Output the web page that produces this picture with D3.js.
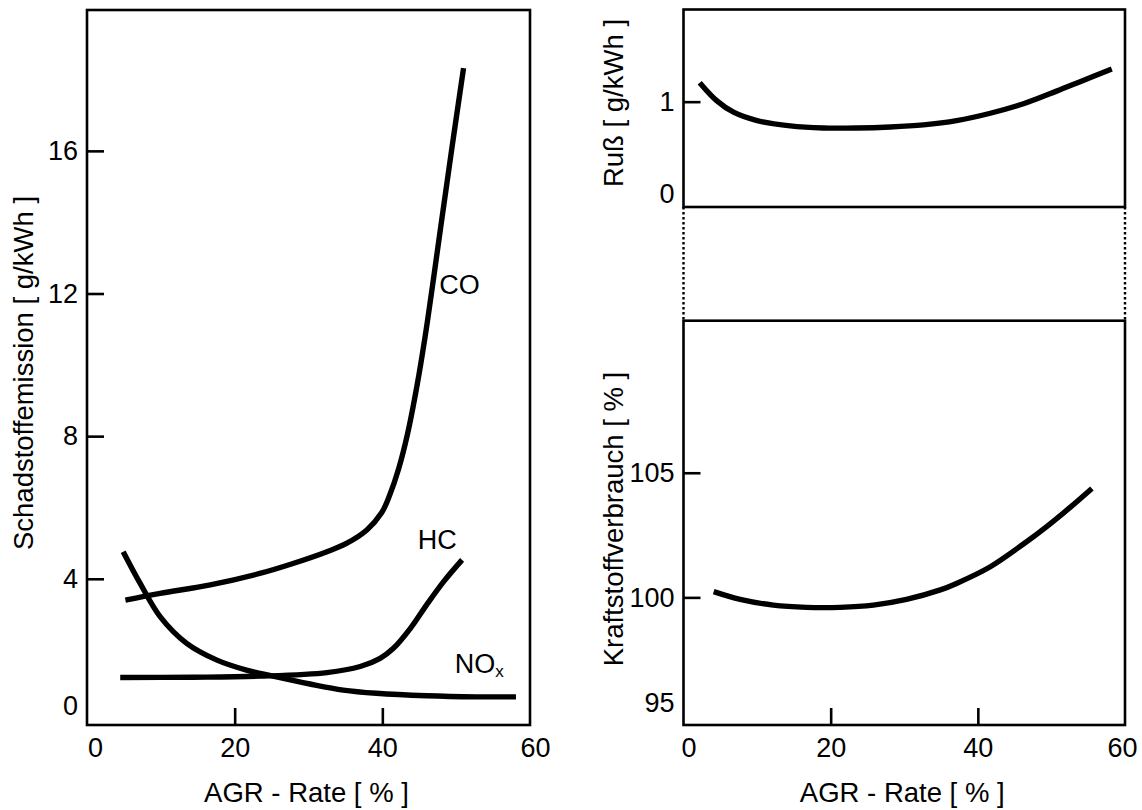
<!DOCTYPE html>
<html>
<head>
<meta charset="utf-8">
<script src="https://cdn.jsdelivr.net/npm/d3@7"></script>
<style>
  html, body { margin: 0; padding: 0; background: #fff; }
  svg { display: block; font-family: "Liberation Sans", Arial, Helvetica, sans-serif; }
</style>
</head>
<body>
<svg id="chart" width="1142" height="810"></svg>
<script>
// ---- Emissions vs. EGR rate (left panel) ----
const coRate   = [5.2, 9.9, 16.7, 23.4, 27.9, 32.5, 35.2, 37.9, 39.9, 41.0, 42.2, 43.4, 44.7, 45.8, 46.8, 48.0, 49.4, 51.0];
const coValue  = [3.40, 3.59, 3.83, 4.15, 4.43, 4.76, 5.00, 5.37, 5.85, 6.35, 7.08, 8.05, 9.42, 10.80, 12.22, 14.0, 16.05, 18.32];

const hcRate   = [4.5, 14.4, 23.4, 32.5, 37.0, 39.7, 41.5, 43.8, 46.0, 48.3, 50.8];
const hcValue  = [1.23, 1.24, 1.27, 1.37, 1.54, 1.77, 2.05, 2.61, 3.27, 3.92, 4.53];

const noxRate  = [4.9, 7.2, 9.9, 13.5, 17.6, 21.6, 25.2, 30.2, 34.7, 39.2, 46.0, 52.8, 58.1];
const noxValue = [4.76, 3.87, 2.94, 2.19, 1.72, 1.44, 1.27, 1.05, 0.88, 0.79, 0.72, 0.69, 0.69];

// ---- Soot vs. EGR rate (upper right) ----
const sootRate  = [2.2, 4.5, 6.8, 10.0, 14.5, 19.0, 23.5, 28.1, 32.6, 37.1, 41.7, 46.2, 50.7, 53.9, 58.2];
const sootValue = [1.18, 1.01, 0.90, 0.82, 0.77, 0.75, 0.75, 0.76, 0.78, 0.82, 0.89, 0.98, 1.10, 1.19, 1.31];

// ---- Fuel consumption vs. EGR rate (lower right) ----
const fuelRate  = [4.1, 7.7, 12.2, 16.7, 21.3, 25.8, 30.3, 34.9, 37.1, 41.7, 46.2, 49.4, 52.5, 55.5];
const fuelValue = [100.23, 99.92, 99.69, 99.60, 99.60, 99.69, 99.92, 100.30, 100.56, 101.23, 102.14, 102.85, 103.60, 104.37];

// ---- Tick values ----
const rateTicks     = [0, 20, 40, 60];
const emissionTicks = [0, 4, 8, 12, 16];
const sootTicks     = [0, 1];
const fuelTicks     = [95, 100, 105];

// ---- Curve labels (anchored in data units of the left panel) ----
const curveNames  = ["CO", "HC", "NO"];
const curveSubs   = ["", "", "x"];
const labelRate   = [47.7, 44.8, 49.8];
const labelValue  = [12.0, 4.84, 1.36];

const svg = d3.select("#chart");
const TICK_FONT = 27;
const TITLE_FONT = 27.5;
const FRAME_W = 2.6;
const CURVE_W = 5.4;

// scales
const xLeft  = d3.scaleLinear().domain([0, 60]).range([87, 530]);
const yLeft  = d3.scaleLinear().domain([-0.1, 19.95]).range([725, 10]);
const xRight = d3.scaleLinear().domain([0, 60]).range([683.5, 1125]);
const ySoot  = d3.scaleLinear().domain([0, 1.875]).range([207, 9.5]);
const yFuel  = d3.scaleLinear().domain([94.88, 111.1]).range([725, 320.7]);

function frame(x, y) {
  const [x0, x1] = x.range();
  const [yb, yt] = y.range();
  svg.append("rect")
    .attr("x", x0).attr("y", yt)
    .attr("width", x1 - x0).attr("height", yb - yt)
    .attr("fill", "none").attr("stroke", "#000").attr("stroke-width", FRAME_W);
}

function yAxis(x, y, ticks, bottomLift) {
  const g = svg.append("g")
    .attr("transform", `translate(${x.range()[0]},0)`)
    .call(d3.axisLeft(y).tickValues(ticks).tickSize(-17).tickPadding(9).tickFormat(d3.format("d")));
  g.attr("font-size", TICK_FONT).attr("font-family", null);
  g.select(".domain").remove();
  g.selectAll(".tick line").attr("stroke", "#000").attr("stroke-width", FRAME_W)
    .filter(d => d === ticks[0]).remove();
  g.selectAll(".tick text").attr("fill", "#000")
    .filter(d => d === ticks[0]).attr("y", -bottomLift);
}

function xAxis(x, y, ticks, firstShift, lastShift) {
  const g = svg.append("g")
    .attr("transform", `translate(0,${y.range()[0]})`)
    .call(d3.axisBottom(x).tickValues(ticks).tickSize(-17).tickPadding(13).tickFormat(d3.format("d")));
  g.attr("font-size", TICK_FONT).attr("font-family", null);
  g.select(".domain").remove();
  g.selectAll(".tick line").attr("stroke", "#000").attr("stroke-width", FRAME_W)
    .filter(d => d === ticks[0] || d === ticks[ticks.length - 1]).remove();
  g.selectAll(".tick text").attr("fill", "#000")
    .attr("dx", d => d === ticks[0] ? firstShift : (d === ticks[ticks.length - 1] ? lastShift : 0));
}

function curve(x, y, rates, values) {
  const pts = rates.map((r, i) => [r, values[i]]);
  const line = d3.line()
    .x(d => x(d[0])).y(d => y(d[1]))
    .curve(d3.curveCatmullRom.alpha(0.5));
  svg.append("path")
    .attr("d", line(pts))
    .attr("fill", "none").attr("stroke", "#000")
    .attr("stroke-width", CURVE_W).attr("stroke-linecap", "butt").attr("stroke-linejoin", "round");
}

function yTitle(px, py, text) {
  svg.append("text")
    .attr("transform", `translate(${px},${py}) rotate(-90)`)
    .attr("text-anchor", "middle").attr("font-size", TITLE_FONT).attr("fill", "#000")
    .text(text);
}

function xTitle(x, py, text) {
  const [x0, x1] = x.range();
  svg.append("text")
    .attr("x", (x0 + x1) / 2 - 2).attr("y", py)
    .attr("text-anchor", "middle").attr("font-size", TITLE_FONT).attr("fill", "#000")
    .text(text);
}

// ---- Left panel: Schadstoffemission ----
frame(xLeft, yLeft);
yAxis(xLeft, yLeft, emissionTicks, 16);
xAxis(xLeft, yLeft, rateTicks, 8, 5);
curve(xLeft, yLeft, noxRate, noxValue);
curve(xLeft, yLeft, hcRate, hcValue);
curve(xLeft, yLeft, coRate, coValue);

curveNames.forEach((name, i) => {
  const t = svg.append("text")
    .attr("x", xLeft(labelRate[i])).attr("y", yLeft(labelValue[i]))
    .attr("font-size", TICK_FONT).attr("fill", "#000")
    .text(name);
  if (curveSubs[i]) {
    t.append("tspan").attr("font-size", 17).attr("dy", 4).text(curveSubs[i]);
  }
});

yTitle(33, 373, "Schadstoffemission [ g/kWh ]");
xTitle(xLeft, 802, "AGR - Rate [ % ]");

// ---- Upper right panel: Ruß ----
frame(xRight, ySoot);
yAxis(xRight, ySoot, sootTicks, 13);
curve(xRight, ySoot, sootRate, sootValue);
yTitle(623, 103, "Ruß [ g/kWh ]");

// dotted connectors between the two right-hand panels (axis break)
[xRight.range()[0], xRight.range()[1]].forEach(px => {
  svg.append("line")
    .attr("x1", px).attr("x2", px)
    .attr("y1", ySoot.range()[0]).attr("y2", yFuel.range()[1])
    .attr("stroke", "#000").attr("stroke-width", 2.4).attr("stroke-dasharray", "2.5,2.5");
});

// ---- Lower right panel: Kraftstoffverbrauch ----
frame(xRight, yFuel);
yAxis(xRight, yFuel, fuelTicks, 19);
xAxis(xRight, yFuel, rateTicks, 5, -3);
curve(xRight, yFuel, fuelRate, fuelValue);
yTitle(623, 519, "Kraftstoffverbrauch [ % ]");
xTitle(xRight, 802, "AGR - Rate [ % ]");
</script>
</body>
</html>
